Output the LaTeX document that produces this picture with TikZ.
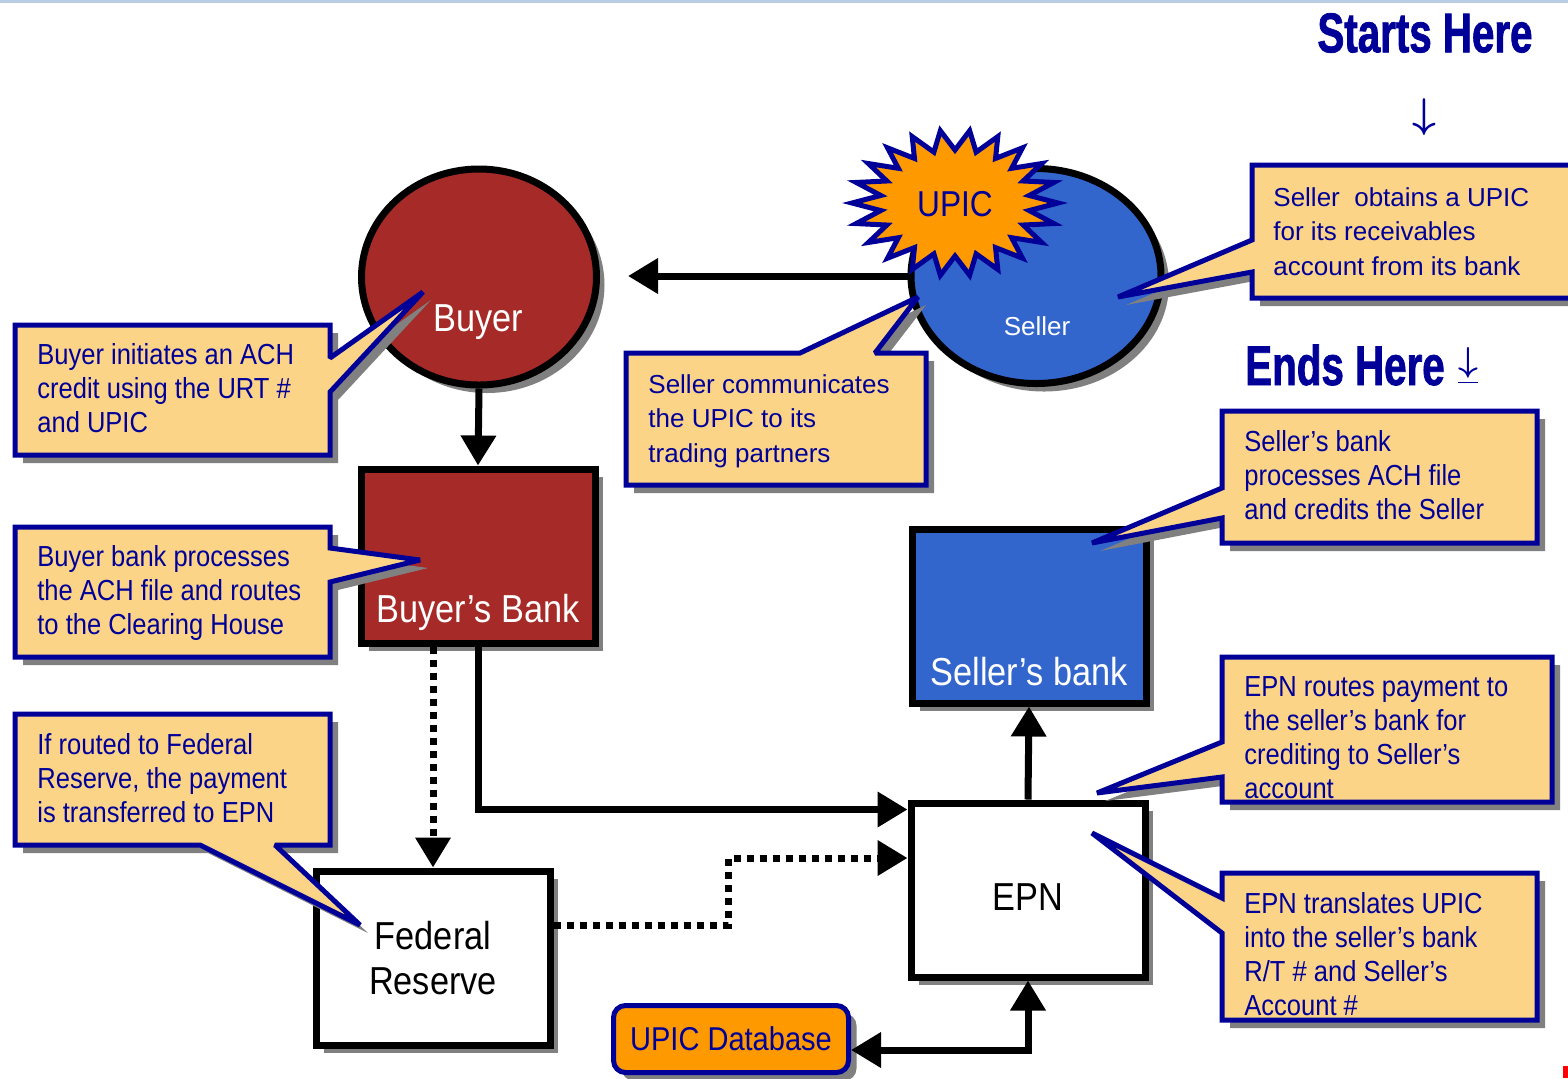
\documentclass[tikz,border=0pt]{standalone}
\usepackage{amsmath}
\usepackage{fontspec}
\setmainfont{Liberation Sans}
\newfontfamily\narrowsf{Liberation Sans}[FakeStretch=0.88]
\newfontfamily\headsf{Liberation Sans}[FakeStretch=0.72, FakeBold=1.3]
\usetikzlibrary{shapes.geometric, arrows.meta, shadows}

\definecolor{notefill}{RGB}{252,212,136}
\definecolor{noteblue}{RGB}{0,0,153}
\definecolor{buyerred}{RGB}{166,42,39}
\definecolor{sellerblue}{RGB}{51,102,204}
\definecolor{upicorange}{RGB}{255,153,0}
\definecolor{shadowgray}{RGB}{128,128,128}
\definecolor{topblue}{RGB}{184,204,228}

\tikzset{
  boxshadow/.style={drop shadow={shadow xshift=4pt, shadow yshift=-4pt, fill=shadowgray, opacity=1}},
  party/.style={ellipse, draw=black, line width=3.5pt, inner sep=0pt, boxshadow},
  bank/.style={rectangle, draw=black, line width=3.5pt, inner sep=0pt, minimum width=117pt, minimum height=87pt, boxshadow},
  note/.style={fill=notefill, draw=noteblue, line width=2.5pt, miter limit=2, boxshadow},
  notetext/.style={anchor=north west, inner sep=0pt, align=left, text=noteblue, font=\narrowsf\fontsize{14.5}{17}\selectfont},
  widetext/.style={notetext, font=\fontsize{13}{17.25}\selectfont},
  biglabel/.style={inner sep=0pt, align=center, font=\narrowsf\fontsize{19.5}{22.5}\selectfont},
  burst/.style={fill=upicorange, draw=noteblue, line width=2.5pt, miter limit=4},
  flow/.style={line width=3.5pt, -{Triangle[length=15pt, width=17pt]}},
  dotflow/.style={flow, dash pattern=on 3.5pt off 3pt},
  heading/.style={inner sep=0pt, text=noteblue, font=\headsf\bfseries\fontsize{28}{30}\selectfont}
}

\begin{document}
\begin{tikzpicture}[x=0.5pt, y=-0.5pt]
  \useasboundingbox (0,0) rectangle (1568,1078);
  \fill[topblue] (0,0) rectangle (1568,3);
  \fill[red] (1563,1066) rectangle (1568,1078);

  \node[party, fill=buyerred, minimum width=117.5pt, minimum height=108pt] (buyer) at (479,277) {};
  \node[party, fill=sellerblue, minimum width=125pt, minimum height=107.5pt] (seller) at (1036,276) {};
  \filldraw[burst, shift={(955,203)}] (0:103 and 73)
    \foreach \i in {1,...,43} { -- ({\i*360/44}:{103-28*mod(\i,2)} and {73-20*mod(\i,2)}) } -- cycle;
  \node[bank, fill=buyerred] (bbank) at (478,556) {};
  \node[bank, fill=sellerblue] (sbank) at (1029,616) {};
  \node[bank, fill=white, biglabel] (fed) at (433,958) {Federal\\Reserve};
  \node[bank, fill=white, biglabel] (epn) at (1028,890) {\raisebox{-3.5pt}[\height][0pt]{EPN}};
  \node[rectangle, rounded corners=6pt, fill=upicorange, draw=noteblue, line width=2.5pt, minimum width=117.5pt, minimum height=33.5pt, boxshadow, biglabel, text=noteblue, font=\narrowsf\fontsize{16.5}{18}\selectfont] (db) at (731,1039) {UPIC Database};

  \node[biglabel, text=white] (buyerlbl) at (478,322) {Buyer};
  \node[biglabel, text=white] (bbanklbl) at (478,612) {Buyer’s Bank};
  \node[biglabel, text=white] (sbanklbl) at (1029,672) {Seller’s bank};
  \node[inner sep=0pt, text=white, font=\fontsize{13}{15}\selectfont] (sellerlbl) at (1037,326) {Seller};
  \node[biglabel, text=noteblue, font=\narrowsf\fontsize{18}{20}\selectfont] (upic) at (955,204) {UPIC};

  \node[heading] (starts) at (1425,33) {Starts Here};
  \node[inner sep=0pt, text=noteblue, font=\fontsize{20}{20}\selectfont] (startsarrow) at (1424,117) {$\boldsymbol{\downarrow}$};
  \node[heading] (ends) at (1345,365) {Ends Here};
  \node[inner sep=0pt, text=noteblue, font=\fontsize{18}{18}\selectfont] (endsarrow) at (1468,366) {$\boldsymbol{\underline{\downarrow}}$};

  \filldraw[note] (15,325) -- (330,325) -- (330,358) -- (423,292) -- (330,392) -- (330,455) -- (15,455) -- cycle;
  \node[notetext] (buyernote) at (37,343) {Buyer initiates an ACH\\credit using the URT \#\\and UPIC};

  \filldraw[note] (15,527) -- (330,527) -- (330,548) -- (420,560) -- (330,582) -- (330,657) -- (15,657) -- cycle;
  \node[notetext] (bbanknote) at (37,545) {Buyer bank processes\\the ACH file and routes\\to the Clearing House};

  \filldraw[note] (15,714) -- (330,714) -- (330,845) -- (275,845) -- (360,925) -- (200,845) -- (15,845) -- cycle;
  \node[notetext] (fednote) at (37,733) {If routed to Federal\\Reserve, the payment\\is transferred to EPN};

  \filldraw[note] (626,353) -- (800,353) -- (918,297) -- (875,353) -- (926,353) -- (926,485) -- (626,485) -- cycle;
  \node[widetext] (tradenote) at (648,374) {Seller communicates\\the UPIC to its\\trading partners};

  \filldraw[note] (1252,165) -- (1580,165) -- (1580,298) -- (1252,298) -- (1252,272) -- (1118,297) -- (1252,240) -- cycle;
  \node[widetext] (obtainnote) at (1273,187) {Seller\ \ obtains a UPIC\\for its receivables\\account from its bank};

  \filldraw[note] (1222,411) -- (1537,411) -- (1537,543) -- (1222,543) -- (1222,518) -- (1092,543) -- (1222,488) -- cycle;
  \node[notetext] (creditnote) at (1244,430) {Seller’s bank\\processes ACH file\\and credits the Seller};

  \filldraw[note] (1222,657) -- (1552,657) -- (1552,802) -- (1222,802) -- (1222,777) -- (1097,793) -- (1222,742) -- cycle;
  \node[notetext] (routenote) at (1244,676) {EPN routes payment to\\the seller’s bank for\\crediting to Seller’s\\account};

  \filldraw[note] (1222,873) -- (1537,873) -- (1537,1020) -- (1222,1020) -- (1222,933) -- (1092,833) -- (1222,898) -- cycle;
  \node[notetext] (translatenote) at (1244,892) {EPN translates UPIC\\into the seller’s bank\\R/T \# and Seller’s\\Account \#};

  \coordinate (epnin) at ([yshift=-5pt]epn.north west);
  \coordinate (fedout) at ([yshift=16.5pt]fed.east);
  \coordinate (epnin2) at ([yshift=16pt]epn.west);
  \draw[flow, shorten >=14pt] (seller.west) -- (seller.west -| buyer.east);
  \draw[flow] (buyer.south) -- (bbank.north);
  \draw[flow] (bbank.south) |- (epnin);
  \draw[dotflow] (bbank.south -| fed.north) -- (fed.north);
  \draw[dotflow] (fedout) -| (728,858) -- (epnin2);
  \draw[flow] (epn.north) -- (sbank.south);
  \draw[flow, {Triangle[length=15pt, width=17pt]}-{Triangle[length=15pt, width=17pt]}] (db.east |- 0,1050) -| (epn.south);
\end{tikzpicture}
\end{document}
